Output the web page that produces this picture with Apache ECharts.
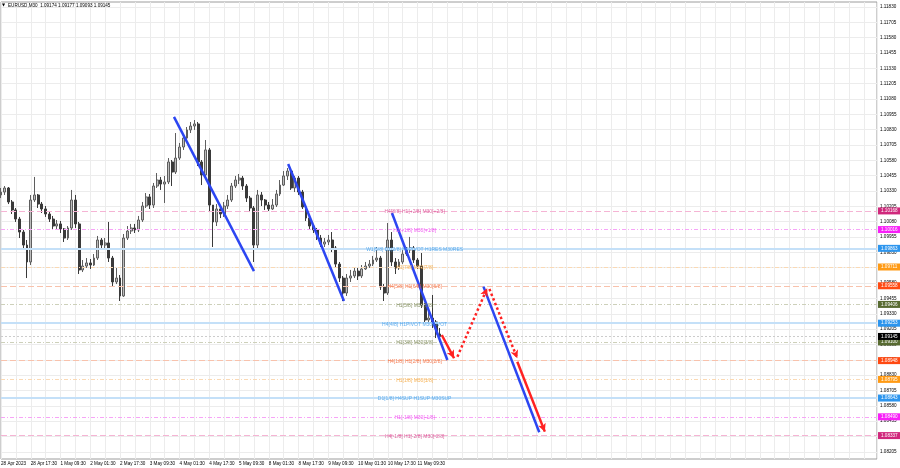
<!DOCTYPE html>
<html>
<head>
<meta charset="utf-8">
<title>EURUSD,M30</title>
<script src="https://cdn.jsdelivr.net/npm/echarts@6/dist/echarts.min.js"></script>
<style>
  html, body { margin: 0; padding: 0; background: #fff; }
  #chart { width: 900px; height: 468px; }
</style>
</head>
<body>
<div id="chart"></div>
<script>
// one candle = 2 hours, one time label every 8 candles
var timeLabels = ['28 Apr 2023', '28 Apr 17:30', '1 May 09:30', '2 May 01:30', '2 May 17:30',
  '3 May 09:30', '4 May 01:30', '4 May 17:30', '5 May 09:30', '8 May 01:30', '8 May 17:30',
  '9 May 09:30', '10 May 01:30', '10 May 17:30', '11 May 09:30'];

var priceTicks = [1.08205, 1.08330, 1.08455, 1.08580, 1.08705, 1.08830, 1.08955, 1.09080,
  1.09205, 1.09330, 1.09455, 1.09580, 1.09705, 1.09830, 1.09955, 1.10080, 1.10205, 1.10330,
  1.10455, 1.10580, 1.10705, 1.10830, 1.10955, 1.11080, 1.11205, 1.11330, 1.11455, 1.11580,
  1.11705, 1.11830];

var opens = [
  1.10298, 1.10322, 1.10355, 1.10241, 1.10176, 1.10102, 1.09996, 1.09890, 1.09752, 1.10257,
  1.10298, 1.10224, 1.10184, 1.10143, 1.10102, 1.10045, 1.10062, 1.10021, 1.09947, 1.10029,
  1.10257, 1.10062, 1.09687, 1.09719, 1.09744, 1.09727, 1.09784, 1.09931, 1.09890, 1.09907,
  1.09784, 1.09589, 1.09621, 1.09475, 1.09947, 1.10004, 1.10029, 1.10013, 1.10094, 1.10208,
  1.10282, 1.10216, 1.10371, 1.10420, 1.10387, 1.10404, 1.10567, 1.10485, 1.10599, 1.10689,
  1.10762, 1.10828, 1.10860, 1.10877, 1.10567, 1.10461, 1.10665, 1.10216, 1.10078, 1.10184,
  1.10143, 1.10208, 1.10257, 1.10371, 1.10420, 1.10436, 1.10371, 1.10273, 1.10192, 1.09890,
  1.10298, 1.10257, 1.10216, 1.10184, 1.10216, 1.10306, 1.10379, 1.10453, 1.10493, 1.10355,
  1.10436, 1.10322, 1.10200, 1.10110, 1.10045, 1.10013, 1.09947, 1.09898, 1.09915, 1.09931,
  1.09866, 1.09735, 1.09621, 1.09499, 1.09621, 1.09638, 1.09678, 1.09638, 1.09695, 1.09719,
  1.09735, 1.09768, 1.09784, 1.09548, 1.09499, 1.09931, 1.09752, 1.09703, 1.09752, 1.09817,
  1.09850, 1.09866, 1.09768, 1.09719, 1.09401, 1.09279, 1.09295, 1.09263, 1.09165];

var closes = [
  1.10322, 1.10355, 1.10241, 1.10176, 1.10102, 1.09996, 1.09890, 1.09752, 1.10257, 1.10298,
  1.10224, 1.10184, 1.10143, 1.10102, 1.10045, 1.10062, 1.10021, 1.09947, 1.10029, 1.10257,
  1.10062, 1.09687, 1.09719, 1.09744, 1.09727, 1.09784, 1.09931, 1.09890, 1.09907, 1.09784,
  1.09589, 1.09621, 1.09475, 1.09947, 1.10004, 1.10029, 1.10013, 1.10094, 1.10208, 1.10282,
  1.10216, 1.10371, 1.10420, 1.10387, 1.10404, 1.10567, 1.10485, 1.10599, 1.10689, 1.10762,
  1.10828, 1.10860, 1.10877, 1.10567, 1.10461, 1.10665, 1.10216, 1.10078, 1.10184, 1.10143,
  1.10208, 1.10257, 1.10371, 1.10420, 1.10436, 1.10371, 1.10273, 1.10192, 1.09890, 1.10298,
  1.10257, 1.10216, 1.10184, 1.10216, 1.10306, 1.10379, 1.10453, 1.10493, 1.10355, 1.10436,
  1.10322, 1.10200, 1.10110, 1.10045, 1.10013, 1.09947, 1.09898, 1.09915, 1.09931, 1.09866,
  1.09735, 1.09621, 1.09499, 1.09621, 1.09638, 1.09678, 1.09638, 1.09695, 1.09719, 1.09735,
  1.09768, 1.09784, 1.09548, 1.09499, 1.09931, 1.09752, 1.09703, 1.09752, 1.09817, 1.09850,
  1.09866, 1.09768, 1.09719, 1.09401, 1.09279, 1.09295, 1.09263, 1.09165, 1.09145];

var lows = [
  1.10273, 1.10298, 1.10224, 1.10143, 1.10078, 1.09947, 1.09850, 1.09621, 1.09727, 1.10241,
  1.10192, 1.10151, 1.10119, 1.10078, 1.10021, 1.10021, 1.09988, 1.09915, 1.09931, 1.10013,
  1.10029, 1.09654, 1.09670, 1.09703, 1.09695, 1.09719, 1.09768, 1.09858, 1.09866, 1.09752,
  1.09556, 1.09572, 1.09434, 1.09467, 1.09931, 1.09980, 1.09988, 1.09996, 1.10078, 1.10192,
  1.10184, 1.10192, 1.10355, 1.10339, 1.10233, 1.10387, 1.10371, 1.10469, 1.10583, 1.10665,
  1.10746, 1.10803, 1.10828, 1.10534, 1.10379, 1.10436, 1.10159, 1.09874, 1.10045, 1.10110,
  1.10119, 1.10184, 1.10241, 1.10355, 1.10387, 1.10339, 1.10241, 1.10159, 1.09752, 1.09866,
  1.10208, 1.10176, 1.10167, 1.10176, 1.10200, 1.10290, 1.10371, 1.10420, 1.10339, 1.10322,
  1.10298, 1.10184, 1.10086, 1.10021, 1.09988, 1.09931, 1.09874, 1.09874, 1.09890, 1.09833,
  1.09703, 1.09589, 1.09434, 1.09475, 1.09589, 1.09621, 1.09605, 1.09621, 1.09687, 1.09703,
  1.09719, 1.09752, 1.09524, 1.09434, 1.09483, 1.09719, 1.09654, 1.09687, 1.09735, 1.09801,
  1.09825, 1.09744, 1.09695, 1.09377, 1.09255, 1.09263, 1.09214, 1.09132, 1.09092];

var highs = [
  1.10355, 1.10371, 1.10363, 1.10257, 1.10192, 1.10119, 1.10013, 1.09931, 1.10298, 1.10445,
  1.10306, 1.10241, 1.10208, 1.10167, 1.10127, 1.10094, 1.10086, 1.10029, 1.10045, 1.10339,
  1.10298, 1.10078, 1.09768, 1.09784, 1.09776, 1.09817, 1.09964, 1.09947, 1.09947, 1.10078,
  1.09801, 1.09703, 1.09646, 1.09980, 1.10045, 1.10062, 1.10062, 1.10127, 1.10241, 1.10314,
  1.10306, 1.10396, 1.10477, 1.10445, 1.10453, 1.10599, 1.10583, 1.10803, 1.10722, 1.10795,
  1.10852, 1.10893, 1.10909, 1.10893, 1.10583, 1.10746, 1.10681, 1.10216, 1.10224, 1.10216,
  1.10241, 1.10298, 1.10396, 1.10453, 1.10469, 1.10453, 1.10387, 1.10290, 1.10208, 1.10339,
  1.10322, 1.10265, 1.10241, 1.10265, 1.10339, 1.10420, 1.10493, 1.10518, 1.10502, 1.10453,
  1.10453, 1.10339, 1.10216, 1.10127, 1.10062, 1.10029, 1.09972, 1.09947, 1.09972, 1.09996,
  1.09882, 1.09752, 1.09638, 1.09654, 1.09687, 1.09703, 1.09703, 1.09727, 1.09752, 1.09768,
  1.09801, 1.09874, 1.09801, 1.09572, 1.10070, 1.09996, 1.09784, 1.09776, 1.09850, 1.09874,
  1.09956, 1.09882, 1.09784, 1.09825, 1.09417, 1.09361, 1.09483, 1.09279, 1.09214];

// Murrey-style levels drawn by the indicator
var levelPrices = [1.10168, 1.10016, 1.09863, 1.09711, 1.09558, 1.09406, 1.09253,
  1.09100, 1.08948, 1.08795, 1.08643, 1.08490, 1.08337];
var levelNames = ['H4[8/8] H1[+2/8] M30[+2/8]', 'H1[+1/8] M30[+1/8]',
  'W1[5/8] D1[2/8] H4PIVOT H1RES M30RES', 'H1[7/8] M30[7/8]', 'H4[5/8] H1[6/8] M30[6/8]',
  'H1[5/8] M30[5/8]', 'H4[4/8] H1PIVOT M30PIVOT', 'H1[3/8] M30[3/8]',
  'H4[1/8] H1[2/8] M30[2/8]', 'H1[1/8] M30[1/8]', 'D1[1/8] H4SUP H1SUP M30SUP',
  'H1[-1/8] M30[-1/8]', 'H4[-1/8] H1[-2/8] M30[-2/8]'];
var levelKinds = ['crimson', 'magenta', 'blue', 'orange', 'orangered', 'olive', 'blue',
  'olive', 'orangered', 'orange', 'blue', 'magenta', 'crimson'];
var bidPrice = 1.09145;

// hand drawn objects: [candle index, price]
var blueLines = [
  [[46.5, 1.10934], [68.0, 1.09678]],
  [[77.2, 1.10551], [92.2, 1.09434]],
  [[105.1, 1.10151], [120.0, 1.08953]],
  [[129.7, 1.09551], [144.7, 1.08364]]
];
var redArrows = [
  [[118.5, 1.09157], [121.8, 1.08967]],
  [[138.8, 1.08939], [146.2, 1.08369]]
];
var redDotted = [
  [[122.7, 1.08980], [130.7, 1.09538]],
  [[131.3, 1.09532], [138.8, 1.08967]]
];

// styles
var kindStyle = {
  crimson:   { line: '#f5b4d4', tag: '#d0287c', text: '#d83e8a', type: [6, 3], width: 1 },
  magenta:   { line: '#f7a4f7', tag: '#f81ef8', text: '#ee3cee', type: [4, 2, 1, 2], width: 1 },
  blue:      { line: '#c4e0f8', tag: '#2c95ee', text: '#3c9be8', type: 'solid', width: 2 },
  orange:    { line: '#fad9b4', tag: '#ff9a14', text: '#f4a232', type: [4, 2, 1, 2], width: 1 },
  orangered: { line: '#f8c2ac', tag: '#ff4912', text: '#f2602e', type: [6, 3], width: 1 },
  olive:     { line: '#cdd0ba', tag: '#586b31', text: '#6d7a45', type: [4, 2, 1, 2], width: 1 }
};
var levelLabelX = 111.2;
var font = 'Liberation Sans';

var candleData = closes.map(function (c, i) {
  return [i, opens[i], c, lows[i], highs[i]];
});

function tagLabel(p, bg) {
  return {
    show: true, position: 'end', distance: 1, formatter: p.toFixed(5),
    backgroundColor: bg, color: '#fff', fontSize: 4.6, fontFamily: font,
    padding: [1, 3, 1, 3], lineHeight: 5
  };
}

var levelLines = levelPrices.map(function (p, i) {
  var s = kindStyle[levelKinds[i]];
  return {
    yAxis: p,
    lineStyle: { color: s.line, type: s.type, width: s.width },
    label: tagLabel(p, s.tag)
  };
});
levelLines.push({
  yAxis: bidPrice,
  lineStyle: { color: '#cccccc', type: [2, 2], width: 1 },
  label: tagLabel(bidPrice, '#000')
});

var levelTexts = levelPrices.map(function (p, i) {
  return {
    name: levelNames[i],
    value: [levelLabelX, p],
    label: { color: kindStyle[levelKinds[i]].text }
  };
});

function pairs(list, style) {
  return list.map(function (seg) {
    return [{ coord: seg[0], lineStyle: style }, { coord: seg[1] }];
  });
}

var chart = echarts.init(document.getElementById('chart'));
chart.setOption({
  animation: false,
  backgroundColor: '#fff',
  title: {
    text: 'EURUSD,M30  1.09174 1.09177 1.09093 1.09145',
    left: 8, top: 3, padding: 0,
    textStyle: { fontSize: 4.6, fontWeight: 'normal', color: '#000', fontFamily: font }
  },
  graphic: [{
    type: 'text', left: 2, top: 3,
    style: { text: '\u25BC', fontSize: 4, fill: '#000', fontFamily: 'DejaVu Sans' }
  }],
  grid: {
    left: 1, right: 23, top: 2, bottom: 9,
    show: true, borderColor: '#9c9c9c', borderWidth: 1,
    outerBoundsMode: 'none'
  },
  xAxis: {
    type: 'value', min: 0, max: 235.5, interval: 4,
    axisLine: { show: false },
    axisTick: { show: false },
    splitLine: { show: true, lineStyle: { color: '#ececec', width: 1 } },
    axisLabel: {
      fontSize: 4.6, color: '#000', fontFamily: font, align: 'left', margin: 2,
      formatter: function (v) {
        if (v % 8 !== 0) return '';
        return timeLabels[v / 8] || '';
      }
    }
  },
  yAxis: {
    type: 'value', position: 'right', scale: true,
    min: 1.081462, max: 1.118708,
    axisLine: { show: false },
    axisTick: { show: false, customValues: priceTicks },
    splitLine: { show: true, lineStyle: { color: '#ececec', width: 1 } },
    axisLabel: {
      customValues: priceTicks,
      fontSize: 4.6, color: '#000', fontFamily: font, margin: 3,
      formatter: function (v) { return v.toFixed(5); }
    }
  },
  series: [
    {
      type: 'line', data: [], z: 1, silent: true,
      markLine: {
        silent: true, symbol: ['none', 'none'], animation: false, precision: 5,
        data: levelLines
      }
    },
    {
      type: 'candlestick', z: 3, data: candleData,
      encode: { x: 0, y: [1, 2, 3, 4] },
      barWidth: 2.4,
      itemStyle: {
        color: '#bdbdbd', color0: '#3a3a3a',
        borderColor: '#5e5e5e', borderColor0: '#3a3a3a', borderWidth: 1
      }
    },
    {
      type: 'line', data: [], z: 4, silent: true,
      markLine: {
        silent: true, symbol: ['none', 'none'], animation: false, precision: 5,
        label: { show: false },
        data: pairs(blueLines, { color: '#2c46f2', width: 2.5, type: 'solid' })
      }
    },
    {
      type: 'line', data: [], z: 4, silent: true,
      markLine: {
        silent: true, symbol: ['none', 'arrow'], symbolSize: [6, 8], animation: false,
        precision: 5, label: { show: false },
        data: pairs(redArrows, { color: '#ff2222', width: 2.5, type: 'solid' })
      }
    },
    {
      type: 'line', data: [], z: 4, silent: true,
      markLine: {
        silent: true, symbol: ['none', 'arrow'], symbolSize: [6, 8], animation: false,
        precision: 5, label: { show: false },
        data: pairs(redDotted, { color: '#ff2222', width: 2.5, type: 'dotted' })
      }
    },
    {
      type: 'scatter', z: 5, silent: true, symbol: 'circle', symbolSize: 1,
      itemStyle: { color: 'rgba(0,0,0,0)' },
      data: levelTexts,
      label: {
        show: true, position: 'inside', formatter: '{b}', offset: [0, 1],
        fontSize: 5, fontFamily: font
      }
    }
  ]
});
</script>
</body>
</html>
